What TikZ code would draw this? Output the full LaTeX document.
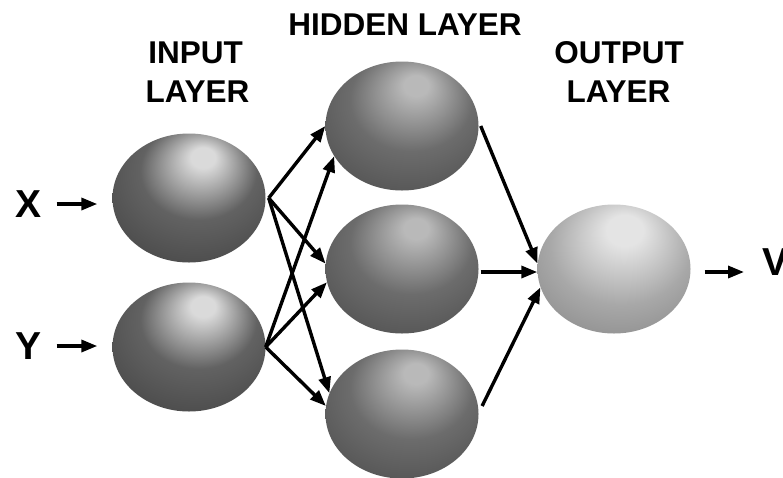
\documentclass[tikz,border=0pt]{standalone}
\usepackage{fontspec}
\setmainfont{Liberation Sans}
\usetikzlibrary{shapes.geometric,arrows.meta}

% grey tones of the three kinds of neuron
\definecolor{inHi}{RGB}{218,218,218}
\definecolor{inMid}{RGB}{98,98,98}
\definecolor{inBody}{RGB}{74,74,74}
\definecolor{inRim}{RGB}{46,46,46}
\definecolor{hidHi}{RGB}{185,185,185}
\definecolor{hidMid}{RGB}{108,108,108}
\definecolor{hidBody}{RGB}{84,84,84}
\definecolor{hidRim}{RGB}{56,56,56}
\definecolor{outHi}{RGB}{228,228,228}
\definecolor{outMid}{RGB}{168,168,168}
\definecolor{outBody}{RGB}{140,140,140}
\definecolor{outRim}{RGB}{100,100,100}

% sphere-like shadings, highlight above and slightly right of centre
\pgfdeclareradialshading{inball}{\pgfpoint{5bp}{17bp}}{%
  color(0bp)=(inHi); color(4bp)=(inHi); color(19bp)=(inMid);
  color(34bp)=(inBody); color(46bp)=(inBody); color(50bp)=(inRim)}
\pgfdeclareradialshading{hidball}{\pgfpoint{5bp}{17bp}}{%
  color(0bp)=(hidHi); color(4bp)=(hidHi); color(20bp)=(hidMid);
  color(34bp)=(hidBody); color(46bp)=(hidBody); color(50bp)=(hidRim)}
\pgfdeclareradialshading{outball}{\pgfpoint{4bp}{17bp}}{%
  color(0bp)=(outHi); color(6bp)=(outHi); color(23bp)=(outMid);
  color(36bp)=(outBody); color(46bp)=(outBody); color(50bp)=(outRim)}

\tikzset{
  neuron/.style={ellipse, minimum width=153pt, minimum height=129pt,
    inner sep=0pt},
  layertext/.style={font=\fontsize{31.5}{36}\selectfont\bfseries,
    inner sep=0pt, anchor=base},
  vartext/.style={font=\fontsize{39}{44}\selectfont\bfseries, inner sep=0pt},
  link/.style={line width=3.4pt, -{Triangle[length=16pt,width=12pt]}}
}

\begin{document}
\begin{tikzpicture}[x=1pt,y=-1pt]
\useasboundingbox[fill=white] (0,0) rectangle (783,477);

% layer titles
\node[layertext] (tIn1) at (195.5,63) {INPUT};
\node[layertext] (tIn2) at (197.5,102) {LAYER};
\node[layertext] (tHid) at (405,35) {HIDDEN LAYER};
\node[layertext] (tOut1) at (619,63) {OUTPUT};
\node[layertext] (tOut2) at (618.5,102) {LAYER};

% neurons
\node[neuron, shading=inball]  (inX) at (189,198) {};
\node[neuron, shading=inball]  (inY) at (189,347) {};
\node[neuron, shading=hidball] (h1)  at (402,126) {};
\node[neuron, shading=hidball] (h2)  at (402,269) {};
\node[neuron, shading=hidball] (h3)  at (402,414) {};
\node[neuron, shading=outball] (out) at (614,269) {};

% inputs and output
\node[vartext] (xlab) at (28.5,204) {X};
\node[vartext] (ylab) at (28.5,346) {Y};
\node[vartext, anchor=west] (vlab) at (762,262) {V};

\draw[link, shorten <=15pt, shorten >=15pt] (xlab.east) -- (xlab.east -| inX.west);
\draw[link, shorten <=15pt, shorten >=15pt] (ylab.east) -- (ylab.east -| inY.west);
\draw[link, shorten <=14pt, shorten >=18pt]
  ([yshift=-3pt]out.east) -- ([yshift=-3pt]out.east -| vlab.west);

% input layer to hidden layer
\draw[link] ([xshift=3pt]inX.east) -- (h1.west);
\draw[link] ([xshift=3pt]inX.east) -- (h2.176);
\draw[link] ([xshift=3pt]inX.east) -- (h3.164);
\draw[link] (inY.east) -- (h1.204);
\draw[link] (inY.east) -- (h2.190);
\draw[link] (inY.east) -- (h3.174);

% hidden layer to output layer
\draw[link] ([xshift=2pt]h1.east) -- (out.176);
\draw[link] ([shift={(2pt,-3pt)}]h2.east) -- ([yshift=-3pt]out.west);
\draw[link] ([xshift=4pt]h3.6) -- (out.194);
\end{tikzpicture}
\end{document}
